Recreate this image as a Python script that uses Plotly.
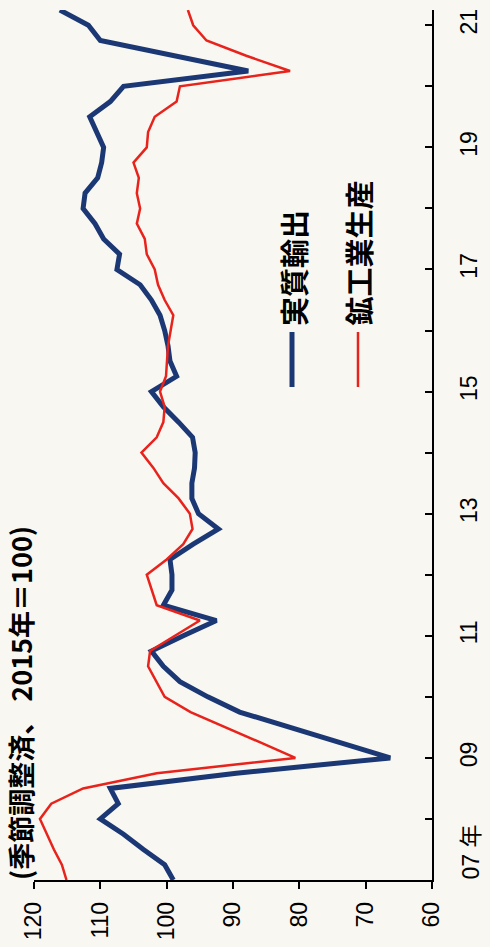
import plotly.graph_objects as go

# ---- data (quarterly, 2007Q1 .. 2021Q2) ----
periods = [f"{y}Q{q}" for y in range(2007, 2022) for q in range(1, 5)][:58]
real_exports = [
    99.0, 100.3, 103.5, 106.5, 110.0, 107.3, 108.5, 89.5,
    66.3, 73.9, 81.4, 89.0, 93.8, 98.0, 100.5, 102.3,
    97.5, 92.5, 100.5, 99.2, 99.2, 99.5, 96.0, 92.2,
    95.2, 96.2, 96.2, 95.8, 95.7, 96.1, 98.2, 100.5,
    102.3, 98.5, 99.5, 99.8, 100.3, 101.0, 102.3, 104.0,
    107.5, 107.1, 109.5, 110.8, 112.6, 112.3, 110.4, 109.8,
    109.5, 110.5, 111.6, 108.5, 106.5, 87.7, 98.8, 110.0,
    111.8, 116.1,
]
industrial_production = [
    115.1, 115.8, 117.0, 118.0, 119.1, 117.4, 112.6, 101.5,
    80.6, 85.8, 91.1, 96.4, 100.3, 101.5, 102.8, 102.5,
    98.7, 95.0, 101.5, 102.3, 103.0, 100.0, 97.5, 96.1,
    96.5, 98.2, 100.5, 102.0, 103.8, 101.5, 100.5, 100.3,
    101.0, 100.1, 100.0, 99.8, 99.4, 99.0, 100.3, 101.3,
    101.8, 103.0, 103.3, 104.5, 104.0, 104.5, 104.2, 105.0,
    103.0, 102.8, 101.8, 98.5, 98.0, 81.4, 88.0, 94.0,
    96.0, 96.8,
]
value_ticks = [60, 70, 80, 90, 100, 110, 120]
year_ticks = list(range(2007, 2022))
year_labels = ["", "", "09", "", "11", "", "13", "", "15", "", "17", "", "19", "", "21"]
series_names = ["実質輸出", "鉱工業生産"]
note_text = "(季節調整済、 2015年＝100)"

# position on time axis (decimal year, quarter start)
t = [int(p[:4]) + (int(p[-1]) - 1) / 4 for p in periods]

NAVY = "#1b3874"
RED = "#e8231c"
BG = "#f8f7f2"
CJK = "Noto Sans CJK JP"
LAT = "Liberation Sans, Arial, sans-serif"

fig = go.Figure()
fig.add_trace(go.Scatter(x=real_exports, y=t, mode="lines", name=series_names[0],
                         line=dict(color=NAVY, width=5), showlegend=False))
fig.add_trace(go.Scatter(x=industrial_production, y=t, mode="lines", name=series_names[1],
                         line=dict(color=RED, width=2.5), showlegend=False))

W, H = 490, 947
L, R, T, B = 34, 58, 10, 67
pw, ph = W - L - R, H - T - B

def px(xp):
    return (xp - L) / pw

def py(yp):
    return (H - B - yp) / ph

fig.update_layout(
    width=W, height=H,
    margin=dict(l=L, r=R, t=T, b=B, pad=0),
    paper_bgcolor=BG, plot_bgcolor=BG,
    xaxis=dict(range=[120, 60], tickvals=value_ticks, ticktext=[str(v) for v in value_ticks],
               ticks="outside", ticklen=7, tickwidth=1.5, tickcolor="black",
               showline=True, linecolor="black", linewidth=1.5,
               showgrid=False, zeroline=False, tickangle=-90,
               tickfont=dict(family=LAT, size=23, color="black"),
               ticklabelstandoff=4, automargin=False, fixedrange=True),
    yaxis=dict(range=[2007, 2021.25], side="right", tickvals=year_ticks, ticktext=year_labels,
               ticks="inside", ticklen=7, tickwidth=1.5, tickcolor="black",
               showline=True, linecolor="black", linewidth=1.5,
               showgrid=False, zeroline=False, tickangle=-90,
               tickfont=dict(family=LAT, size=23, color="black"),
               ticklabelstandoff=16, automargin=False, fixedrange=True),
)

# legend
fig.add_shape(type="line", xref="paper", yref="paper", x0=px(292), x1=px(292), y0=py(387), y1=py(332),
              line=dict(color=NAVY, width=5))
fig.add_shape(type="line", xref="paper", yref="paper", x0=px(358), x1=px(358), y0=py(387), y1=py(332),
              line=dict(color=RED, width=2.5))
fig.add_annotation(text=series_names[0], xref="paper", yref="paper", x=px(293), y=py(328),
                   xanchor="center", yanchor="bottom", textangle=-90, showarrow=False,
                   font=dict(family=CJK, size=29, color="black", weight="bold"))
fig.add_annotation(text=series_names[1], xref="paper", yref="paper", x=px(358), y=py(328),
                   xanchor="center", yanchor="bottom", textangle=-90, showarrow=False,
                   font=dict(family=CJK, size=29, color="black", weight="bold"))

# note
fig.add_annotation(text=note_text, xref="paper", yref="paper", x=px(21), y=py(882),
                   xanchor="center", yanchor="bottom", textangle=-90, showarrow=False,
                   font=dict(family=CJK, size=27, color="black", weight="bold"))

# first year label with 年
fig.add_annotation(text="07 年", xref="paper", yref="paper", x=px(471), y=py(882),
                   xanchor="center", yanchor="bottom", textangle=-90, showarrow=False,
                   font=dict(family="Liberation Sans, Noto Sans CJK JP", size=23, color="black"))

fig.write_html("out.html", config={"displayModeBar": False},
               post_script="document.body.style.margin='0';")
